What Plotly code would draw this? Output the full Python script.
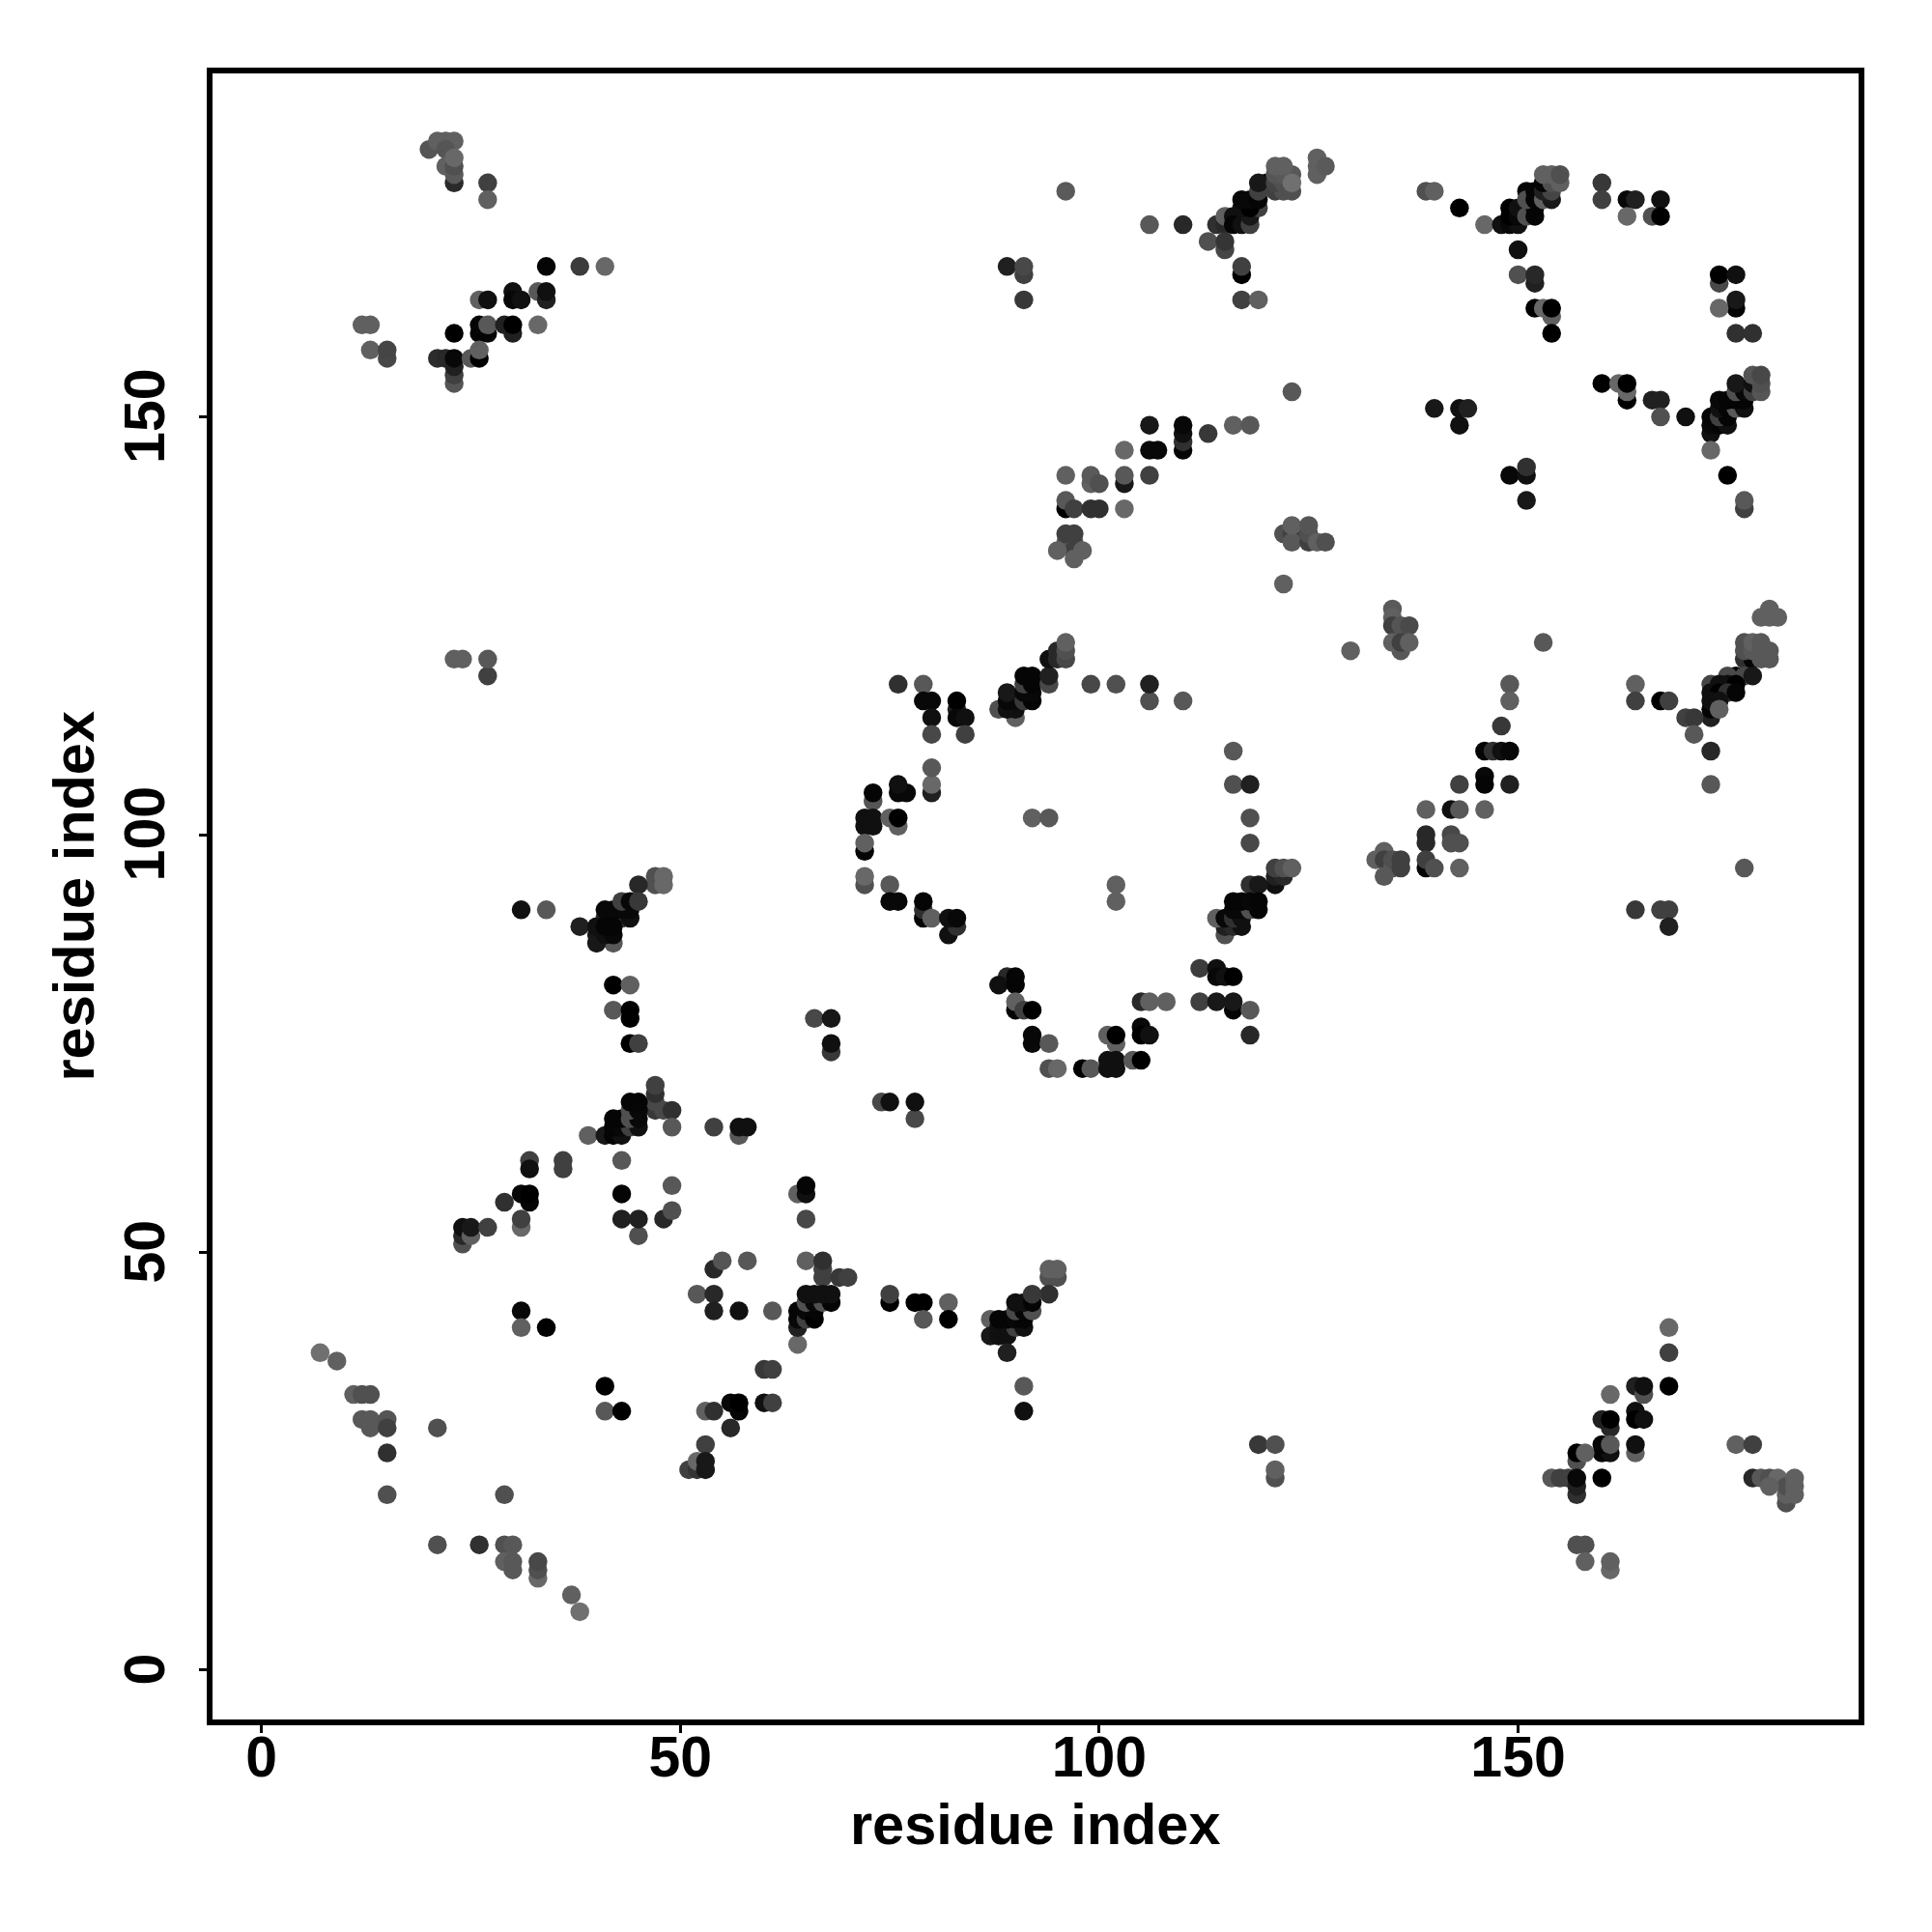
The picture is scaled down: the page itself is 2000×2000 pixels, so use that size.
import plotly.graph_objects as go

# (residue i, residue j, grey level), grouped by region
top_left = [(20,182,0x55),(21,183,0x60),(22,183,0x60),(23,183,0x60),(22,182,0x55),(22,180,0x60),(23,178,0x2a),(23,179,0x5a),(23,180,0x50),(23,181,0x68),
 (27,178,0x40),(27,176,0x60),(34,168,0x05),(38,168,0x3c),(41,168,0x68),(30,165,0x10),(33,165,0x58),(34,164,0x20),(34,165,0x10),
 (26,164,0x60),(27,164,0x10),(30,164,0x08),(31,164,0x10),(12,161,0x60),(13,161,0x60),(26,160,0x05),(27,160,0x05),(30,160,0x20),(23,160,0x00),
 (26,161,0x05),(27,161,0x58),(29,161,0x20),(30,161,0x00),(33,161,0x68),(13,158,0x60),(15,157,0x48),(15,158,0x45),
 (21,157,0x2c),(22,157,0x28),(23,154,0x55),(23,155,0x40),(23,156,0x20),(23,157,0x08),(25,157,0x58),(26,157,0x00),(26,158,0x60)]
top_mid = [(96,177,0x5a),(106,173,0x58),(110,173,0x28),(114,173,0x30),(115,173,0x28),(115,174,0x60),(116,174,0x10),(116,173,0x05),(117,173,0x10),(118,173,0x40),
 (118,174,0x18),(119,175,0x40),(117,175,0x10),(118,175,0x00),(117,176,0x08),(118,176,0x08),(119,176,0x05),(120,178,0x08),(119,177,0x40),(119,178,0x18),
 (121,177,0x40),(122,177,0x50),(123,177,0x50),(121,178,0x45),(122,178,0x50),(121,179,0x55),(122,179,0x58),(123,179,0x58),(123,178,0x70),(121,180,0x60),(122,180,0x60),
 (126,181,0x60),(126,180,0x60),(126,179,0x60),(127,180,0x5a),(113,171,0x50),(115,170,0x45),(115,171,0x35),(89,168,0x20),(91,167,0x40),(91,168,0x48),(91,164,0x38),
 (117,167,0x00),(117,168,0x40),(117,164,0x40),(119,164,0x60),(123,153,0x58),(106,149,0x18),(110,146,0x05),(110,147,0x30),(110,148,0x10),(110,149,0x08),(113,148,0x38),
 (116,149,0x60),(118,149,0x58),(106,146,0x08),(107,146,0x08),(103,146,0x68),(96,143,0x60),(99,142,0x60),(99,143,0x5a),(100,142,0x50),(103,142,0x18),(103,143,0x58),(106,143,0x40),
 (96,139,0x00),(96,140,0x58),(97,139,0x40),(99,139,0x30),(100,139,0x30),(103,139,0x68),(96,135,0x58),(97,135,0x50),(97,134,0x40),(96,136,0x40),(97,136,0x40),
 (95,134,0x60),(98,134,0x60),(97,133,0x60),(122,130,0x60),(122,136,0x50),(123,136,0x40),(123,135,0x58),(123,137,0x60),(125,135,0x40),(125,136,0x50),(125,137,0x55),(126,135,0x60),(127,135,0x50)]
top_right = [(139,177,0x50),(140,177,0x60),(143,175,0x00),(146,173,0x68),(148,173,0x10),(149,173,0x08),(150,173,0x10),(149,175,0x00),(149,174,0x00),(150,174,0x08),
 (150,175,0x10),(151,174,0x50),(152,174,0x05),(152,175,0x05),(151,177,0x05),(151,176,0x50),(152,177,0x05),(152,176,0x05),(153,176,0x60),(154,176,0x18),(153,177,0x20),(154,177,0x45),
 (153,178,0x05),(154,178,0x50),(153,179,0x60),(154,179,0x60),(155,178,0x60),(155,179,0x50),(150,170,0x10),(150,167,0x50),(152,166,0x20),(152,167,0x28),
 (152,163,0x00),(153,163,0x68),(154,162,0x60),(154,163,0x00),(154,160,0x00),(160,178,0x38),(160,176,0x40),(163,176,0x08),(164,176,0x20),(167,176,0x10),
 (163,174,0x68),(166,174,0x50),(167,174,0x00),(174,166,0x48),(174,167,0x00),(176,167,0x10),(176,163,0x05),(176,164,0x18),(174,163,0x68),(176,160,0x30),(178,160,0x30),
 (160,154,0x00),(162,154,0x68),(163,152,0x00),(163,153,0x68),(163,154,0x00),(166,152,0x20),(167,152,0x20),(167,150,0x50),(170,150,0x10),
 (140,151,0x18),(143,149,0x10),(143,151,0x10),(144,151,0x20),(173,148,0x10),(173,149,0x08),(174,149,0x05),(175,149,0x10),(173,150,0x05),(174,150,0x40),(175,150,0x05),
 (174,151,0x10),(175,151,0x05),(176,151,0x58),(177,151,0x10),(174,152,0x08),(175,152,0x05),(176,152,0x05),(177,152,0x05),(176,153,0x50),(177,153,0x08),(176,154,0x18),
 (178,153,0x40),(178,154,0x10),(179,153,0x55),(179,154,0x50),(178,155,0x55),(179,155,0x48),(173,146,0x68),(175,143,0x00),(149,143,0x08),(151,143,0x10),(151,144,0x30),(151,140,0x18),
 (177,139,0x40),(177,140,0x58)]
mid_right = [(135,127,0x5a),(135,126,0x60),(135,125,0x40),(136,125,0x55),(137,125,0x4a),(136,122,0x58),(135,123,0x60),(136,123,0x40),(137,123,0x60),(130,122,0x60),(153,123,0x58),
 (149,118,0x58),(149,116,0x60),(148,113,0x38),(146,110,0x05),(147,110,0x30),(148,110,0x10),(149,110,0x08),(146,107,0x08),(146,106,0x05),(149,106,0x20),(143,106,0x40),
 (139,103,0x60),(142,103,0x10),(143,103,0x58),(146,103,0x60),(139,100,0x28),(139,99,0x28),(142,100,0x48),(142,99,0x50),(143,99,0x50),(139,96,0x05),(139,97,0x40),(140,96,0x50),(143,96,0x60),
 (134,98,0x60),(133,97,0x60),(134,97,0x40),(134,95,0x58),(135,96,0x58),(135,97,0x50),(136,97,0x40),(136,96,0x40),
 (180,127,0x60),(179,126,0x60),(180,126,0x60),(181,126,0x60),(177,121,0x30),(178,121,0x05),(177,122,0x50),(177,123,0x50),(178,122,0x58),(178,123,0x60),(179,121,0x58),(179,122,0x58),(179,123,0x58),(180,121,0x58),(180,122,0x58),
 (176,119,0x00),(175,119,0x48),(177,119,0x48),(178,119,0x18),(173,118,0x45),(174,118,0x10),(175,118,0x10),(176,118,0x00),(173,117,0x10),(174,117,0x00),(175,117,0x30),(176,117,0x05),
 (173,114,0x20),(173,115,0x05),(173,116,0x10),(174,116,0x10),(174,115,0x60),(164,118,0x60),(164,116,0x40),(167,116,0x00),(168,116,0x40),(170,114,0x40),(171,114,0x38),(171,112,0x58),
 (173,110,0x28),(173,106,0x58),(177,96,0x58),(164,91,0x38),(167,91,0x40),(168,91,0x40),(168,89,0x20)]
mid_left = [(23,121,0x60),(24,121,0x60),(27,119,0x40),(27,121,0x58),(47,94,0x50),(47,95,0x50),(48,94,0x68),(48,95,0x68),(45,94,0x28),(41,90,0x30),(42,90,0x05),(43,90,0x40),(44,90,0x10),
 (41,91,0x08),(42,91,0x08),(43,91,0x08),(44,91,0x08),(43,92,0x40),(44,92,0x08),(45,92,0x38),(42,87,0x58),(40,87,0x18),(40,88,0x18),(41,88,0x10),(42,88,0x08),(38,89,0x20),(40,89,0x10),(41,89,0x05),(42,89,0x05),
 (31,91,0x10),(34,91,0x58),(42,82,0x00),(44,82,0x60),(42,79,0x58),(44,78,0x00),(44,79,0x00),(44,75,0x00),(45,75,0x40),(47,67,0x38),(47,68,0x48),(47,69,0x30),(47,70,0x40),(48,67,0x48),(49,67,0x30),
 (39,64,0x60),(41,64,0x18),(42,64,0x05),(43,64,0x10),(42,65,0x05),(43,65,0x08),(44,65,0x40),(45,65,0x10),(42,66,0x05),(43,66,0x05),(44,66,0x50),(45,66,0x08),(44,67,0x50),(45,67,0x08),(44,68,0x05),(45,68,0x05),
 (49,65,0x58),(43,61,0x58),(32,61,0x40),(36,61,0x40),(54,65,0x40),(57,64,0x58),(57,65,0x10),(58,65,0x10)]
low_left = [(32,60,0x10),(36,60,0x40),(29,56,0x30),(31,57,0x08),(32,56,0x05),(32,57,0x00),(43,57,0x05),(49,58,0x58),(43,54,0x20),(45,52,0x50),(45,54,0x20),(48,54,0x28),(49,55,0x50),
 (31,53,0x68),(31,54,0x40),(24,51,0x50),(24,52,0x28),(24,53,0x10),(25,52,0x60),(25,53,0x18),(27,53,0x40),(54,48,0x28),(55,49,0x55),(58,49,0x58),(52,45,0x58),(54,45,0x28),(54,43,0x20),(57,43,0x10),
 (31,43,0x08),(31,41,0x60),(34,41,0x00),(61,43,0x58),(7,38,0x70),(9,37,0x60),(11,33,0x60),(12,33,0x50),(13,33,0x50),(12,30,0x58),(13,30,0x58),(13,29,0x58),(15,30,0x55),(15,29,0x40),
 (15,26,0x30),(15,21,0x50),(29,21,0x50),(21,29,0x50),(41,34,0x00),(41,31,0x58),(43,31,0x00),(53,31,0x60),(54,31,0x30),(57,31,0x05),(56,32,0x08),(57,32,0x00),(56,29,0x28),
 (53,27,0x40),(51,24,0x40),(52,24,0x35),(52,25,0x68),(53,24,0x18),(53,25,0x18),(21,15,0x50),(26,15,0x30),(29,15,0x50),(30,15,0x58),(29,13,0x60),(30,12,0x58),(30,13,0x58),
 (33,11,0x68),(33,12,0x50),(33,13,0x48),(37,9,0x60),(38,7,0x70)]
low_mid = [(64,57,0x60),(65,57,0x10),(65,58,0x05),(65,54,0x48),(65,49,0x60),(67,47,0x40),(67,48,0x40),(67,49,0x30),(69,47,0x38),(70,47,0x40),(64,39,0x68),(64,41,0x20),(64,42,0x08),(64,43,0x05),
 (65,42,0x40),(65,43,0x08),(66,42,0x00),(66,43,0x05),(65,44,0x50),(66,44,0x08),(67,44,0x50),(68,44,0x05),(65,45,0x10),(66,45,0x10),(67,45,0x10),(68,45,0x10),
 (60,36,0x38),(61,36,0x40),(60,32,0x10),(61,32,0x40),(75,44,0x00),(75,45,0x40),(78,44,0x00),(79,44,0x00),(82,44,0x60),(79,42,0x58),(82,42,0x00),
 (94,47,0x50),(95,47,0x50),(94,48,0x60),(95,48,0x60),(94,45,0x30),(87,42,0x60),(87,40,0x18),(88,40,0x10),(89,40,0x10),(88,41,0x10),(89,41,0x10),(90,41,0x40),(91,41,0x10),
 (88,42,0x05),(89,42,0x05),(90,42,0x08),(91,42,0x05),(90,43,0x48),(91,43,0x05),(92,43,0x50),(90,44,0x10),(91,44,0x10),(92,44,0x05),(92,45,0x38),(89,38,0x20),(91,34,0x58),(91,31,0x10),
 (119,27,0x38),(121,27,0x50),(121,23,0x50),(121,24,0x60)]
centre = [(76,118,0x30),(79,118,0x58),(79,116,0x08),(80,116,0x08),(80,114,0x10),(80,112,0x48),(83,115,0x20),(83,116,0x00),(83,114,0x08),(84,114,0x10),(84,112,0x40),(90,114,0x60),(88,115,0x50),(89,115,0x10),(90,115,0x10),
 (89,116,0x08),(90,116,0x08),(89,117,0x18),(91,116,0x38),(92,116,0x05),(91,117,0x08),(92,117,0x08),(91,118,0x40),(92,118,0x05),(91,119,0x05),(92,119,0x05),(94,118,0x48),(94,119,0x20),
 (94,121,0x10),(95,121,0x28),(95,122,0x28),(96,121,0x48),(96,122,0x50),(96,123,0x60),(99,118,0x48),(102,118,0x50),(106,116,0x50),(106,118,0x20),(110,116,0x58),
 (116,110,0x58),(116,106,0x50),(118,106,0x20),(118,102,0x50),(118,99,0x48),(80,105,0x20),(80,106,0x68),(80,108,0x58),(76,105,0x08),(77,105,0x08),(76,106,0x10),(73,104,0x55),(73,105,0x05),
 (72,101,0x10),(73,101,0x10),(72,102,0x10),(73,102,0x10),(75,102,0x60),(76,101,0x60),(76,102,0x00),(72,98,0x05),(72,99,0x60),(72,94,0x50),(72,95,0x68),(75,94,0x58),(75,92,0x08),(76,92,0x08),
 (79,90,0x05),(79,91,0x30),(79,92,0x05),(80,90,0x60),(82,88,0x10),(83,89,0x30),(82,90,0x10),(83,90,0x08),(92,102,0x60),(94,102,0x58),(102,94,0x60),(102,92,0x60),
 (121,94,0x10),(121,95,0x20),(122,95,0x28),(121,96,0x40),(122,96,0x50),(123,96,0x60),(118,94,0x30),(119,94,0x18),(115,88,0x50),(115,89,0x20),(116,89,0x28),(117,89,0x10),(114,90,0x60),(115,90,0x08),(116,90,0x30),(117,90,0x10),
 (116,91,0x08),(117,91,0x08),(118,91,0x50),(119,91,0x05),(116,92,0x05),(117,92,0x05),(118,92,0x08),(119,92,0x05),
 (112,84,0x3c),(114,84,0x10),(114,83,0x08),(115,83,0x10),(116,83,0x00),(112,80,0x40),(114,80,0x18),(116,79,0x05),(116,80,0x18),(118,79,0x58),(118,76,0x28),(105,80,0x28),(106,80,0x60),(108,80,0x60),
 (89,83,0x28),(88,82,0x10),(90,82,0x05),(90,83,0x05),(90,79,0x05),(90,80,0x60),(91,79,0x40),(92,79,0x00),(92,75,0x08),(92,76,0x08),(94,75,0x58),(94,72,0x50),(95,72,0x68),(98,72,0x00),(99,72,0x58),
 (102,75,0x60),(101,76,0x60),(102,76,0x00),(101,72,0x10),(102,72,0x10),(101,73,0x10),(102,73,0x10),(104,73,0x58),(105,73,0x00),(105,77,0x08),(105,76,0x00),(106,76,0x10),
 (66,78,0x48),(68,78,0x18),(68,74,0x38),(68,75,0x10),(74,68,0x48),(75,68,0x10),(78,66,0x48),(78,68,0x10)]
low_right = [(168,41,0x68),(168,38,0x40),(168,34,0x00),(164,34,0x20),(165,33,0x50),(165,34,0x10),(161,33,0x68),(164,31,0x10),(164,30,0x00),(165,30,0x10),(161,29,0x28),(160,30,0x20),(161,30,0x00),
 (157,25,0x50),(160,26,0x05),(161,26,0x10),(157,26,0x00),(158,26,0x60),(160,27,0x05),(161,27,0x58),(164,26,0x60),(164,27,0x10),(160,23,0x00),(154,23,0x58),(155,23,0x40),(156,23,0x40),(157,21,0x30),(157,22,0x20),(157,23,0x08),
 (157,15,0x50),(158,15,0x50),(158,13,0x60),(161,12,0x68),(161,13,0x60),(176,27,0x60),(178,27,0x40),(178,23,0x28),(179,23,0x58),(180,23,0x50),(181,23,0x68),
 (182,20,0x50),(182,21,0x60),(182,22,0x50),(180,22,0x60),(183,21,0x60),(183,22,0x60),(183,23,0x60)]

tick_values = [0, 50, 100, 150]
axis_label = "residue index"

groups = [top_left, top_mid, top_right, mid_right, mid_left, low_left, low_mid, centre, low_right]
points = [p for g in groups for p in g]
xs = [p[0] for p in points]
ys = [p[1] for p in points]
colors = [f"rgb({p[2]},{p[2]},{p[2]})" for p in points]

font = "Liberation Sans"
axis = dict(showline=True, linecolor="black", linewidth=5.5, mirror=True, showgrid=False, zeroline=False,
            ticks="outside", ticklen=8, tickwidth=3, tickcolor="black",
            tickmode="array", tickvals=tick_values, ticktext=[str(v) for v in tick_values],
            tickfont=dict(family=font, size=59, color="black", weight=700),
            title=dict(text=axis_label, font=dict(family=font, size=59.5, color="black", weight=700)))

fig = go.Figure(go.Scatter(x=xs, y=ys, mode="markers", cliponaxis=True,
                           marker=dict(size=19.5, color=colors, line=dict(width=0))))
fig.update_layout(width=2000, height=2000, margin=dict(l=0, r=0, t=0, b=0), autosize=False,
                  paper_bgcolor="white", plot_bgcolor="white", showlegend=False,
                  xaxis=dict(axis, domain=[211.5/2000, 1916/2000], range=[-5.9, 190.64]),
                  yaxis=dict(axis, domain=[1-1772/2000, 1-67.5/2000], range=[-5.9, 191.16], tickangle=-90))
fig.update_xaxes(title_standoff=19, ticklabelstandoff=-26)
fig.update_yaxes(title_standoff=2, ticklabelstandoff=12, ticklabelshift=8)
fig.write_html("out.html")
